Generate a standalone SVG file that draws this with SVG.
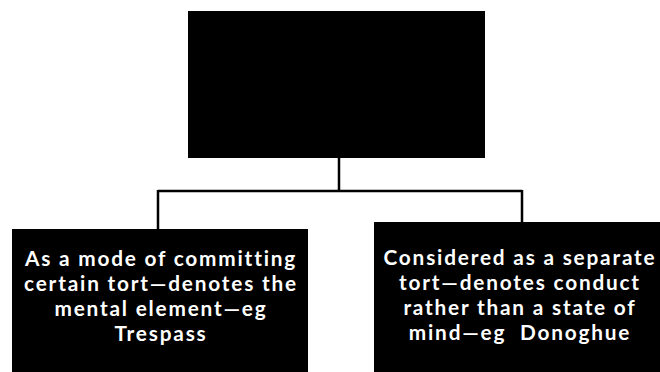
<svg xmlns="http://www.w3.org/2000/svg" width="660" height="372" viewBox="0 0 660 372">
<style>
.box{fill:#000}
.t{fill:#fff;font-family:Lato,"Open Sans",sans-serif;font-weight:700;font-size:20.8px;letter-spacing:1.8px;text-anchor:middle}
.c{stroke:#000;stroke-width:2.5;fill:none}
</style>
<rect width="660" height="372" fill="#fff"/>
<g id="connectors">
<path class="c" d="M339 158 V191 M158 191 H522 M158 190 V229 M522 190 V222"/>
</g>
<g id="top"><rect class="box" x="188" y="11" width="297" height="147"/></g>
<g id="left">
<rect class="box" x="12" y="229" width="296" height="143"/>
<text class="t"><tspan x="161" y="266">As a mode of committing</tspan><tspan x="161" y="291">certain tort—denotes the</tspan><tspan x="161" y="316">mental element—eg</tspan><tspan x="161" y="341">Trespass</tspan></text>
</g>
<g id="right">
<rect class="box" x="374" y="222" width="286" height="150"/>
<text class="t"><tspan x="520" y="265">Considered as a separate</tspan><tspan x="520" y="290">tort—denotes conduct</tspan><tspan x="520" y="315">rather than a state of</tspan><tspan x="520" y="340">mind—eg&#160; Donoghue</tspan></text>
</g>
</svg>
